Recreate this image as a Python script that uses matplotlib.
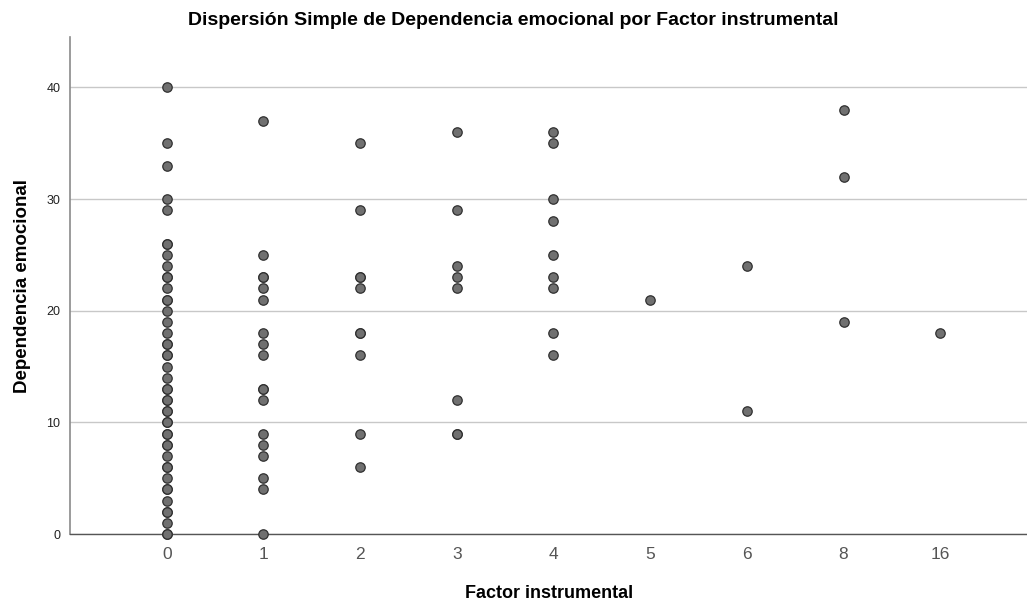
import numpy as np
import matplotlib.pyplot as plt

plt.rcParams['font.family'] = ['Liberation Sans', 'DejaVu Sans']

# categorias del eje x (factor instrumental)
categorias = ["0", "1", "2", "3", "4", "5", "6", "8", "16"]

# valores de dependencia emocional por categoria
dep_0 = [40, 35, 33, 30, 29, 26, 25, 24, 23, 22, 21, 20, 19, 18, 17, 16, 15,
         14, 13, 12, 11, 10, 9, 8, 7, 6, 5, 4, 3, 2, 1, 0,
         26, 23, 21, 17, 16, 13, 12, 11, 10, 9, 8, 6, 4, 2, 0]
dep_1 = [37, 25, 23, 22, 21, 18, 17, 16, 13, 12, 9, 8, 7, 5, 4, 0, 23, 13]
dep_2 = [35, 29, 23, 22, 18, 16, 9, 6, 23, 18]
dep_3 = [36, 29, 24, 23, 22, 12, 9, 9]
dep_4 = [36, 35, 30, 28, 25, 23, 22, 18, 16]
dep_5 = [21]
dep_6 = [24, 11]
dep_8 = [38, 32, 19]
dep_16 = [18]

grupos = [dep_0, dep_1, dep_2, dep_3, dep_4, dep_5, dep_6, dep_8, dep_16]

fig = plt.figure(figsize=(10.27, 6.06), dpi=100)
ax = fig.add_axes([0.0682, 0.1188, 0.932, 0.820])

for i, vals in enumerate(grupos):
    ax.scatter(
        np.full(len(vals), i),
        vals,
        s=46,
        facecolor='#707070',
        edgecolor='#303030',
        linewidth=0.9,
        zorder=3,
        clip_on=False
    )

ax.set_xlim(-1, 8.9)
ax.set_ylim(0, 44.5)
ax.set_xticks(range(len(categorias)))
ax.set_xticklabels(categorias)
ax.set_yticks([0, 10, 20, 30, 40])

ax.yaxis.grid(True, color='#c8c8c8', linewidth=1.0)
ax.set_axisbelow(True)

for s in ['top', 'right']:
    ax.spines[s].set_visible(False)
ax.spines['left'].set_color('#8a8a8a')
ax.spines['bottom'].set_color('#555555')
ax.spines['left'].set_linewidth(1.2)
ax.spines['bottom'].set_linewidth(1.0)

ax.tick_params(axis='y', length=0, pad=7, labelsize=9, labelcolor='#222222')
ax.tick_params(axis='x', length=0, pad=9, labelsize=12.5, labelcolor='#555555')

ax.set_xlabel('Factor instrumental', fontsize=13, fontweight='bold', labelpad=17)
ax.set_ylabel('Dependencia emocional', fontsize=13.5, fontweight='bold', labelpad=11)
fig.suptitle('Dispersión Simple de Dependencia emocional por Factor instrumental',
             fontsize=14, fontweight='bold', x=0.5, y=0.980)

fig.savefig('out.png', dpi=100)
